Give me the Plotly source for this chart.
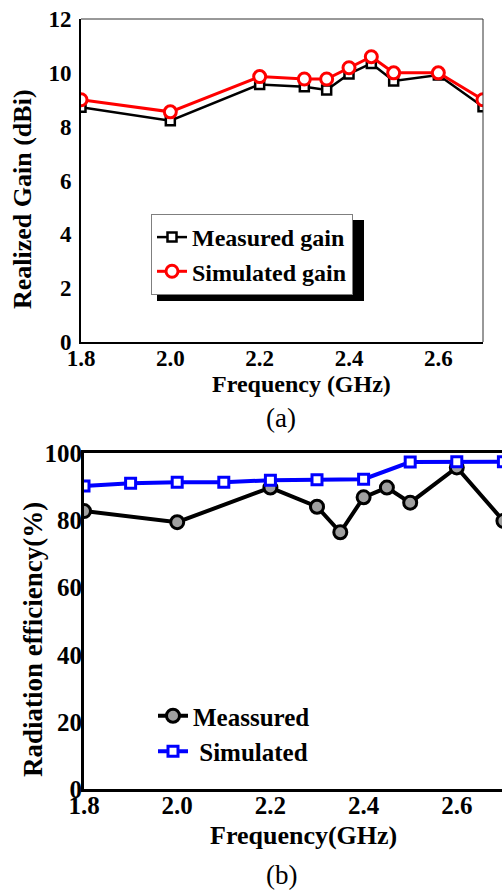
import plotly.graph_objects as go

# ---------- data ----------
freq_a = [1.8, 2.0, 2.2, 2.3, 2.35, 2.4, 2.45, 2.5, 2.6, 2.7]
gain_measured = [8.72, 8.22, 9.57, 9.48, 9.36, 9.96, 10.35, 9.70, 9.92, 8.74]
gain_simulated = [9.00, 8.55, 9.86, 9.77, 9.77, 10.19, 10.60, 10.00, 10.00, 9.00]

freq_b_meas = [1.8, 2.0, 2.2, 2.3, 2.35, 2.4, 2.45, 2.5, 2.6, 2.7]
eff_measured = [82.8, 79.5, 89.8, 84.1, 76.5, 86.9, 89.8, 85.3, 95.8, 79.9]
freq_b_sim = [1.8, 1.9, 2.0, 2.1, 2.2, 2.3, 2.4, 2.5, 2.6, 2.7]
eff_simulated = [90.3, 91.1, 91.4, 91.4, 92.0, 92.1, 92.3, 97.4, 97.5, 97.5]

x_ticks = [1.8, 2.0, 2.2, 2.4, 2.6]
x_ticktext = ["1.8", "2.0", "2.2", "2.4", "2.6"]

W, H = 502, 892
SERIF = "Liberation Serif"


def px_x(v):
    return v / W


def px_y(v):
    return 1 - v / H


fig = go.Figure()

# ---------- panel (a) ----------
fig.add_trace(go.Scatter(
    x=freq_a, y=gain_measured, name="Measured gain", mode="lines+markers",
    line=dict(color="black", width=2.5),
    marker=dict(symbol="square", size=9, color="white", line=dict(color="black", width=2.5)),
    xaxis="x", yaxis="y", legend="legend"))
fig.add_trace(go.Scatter(
    x=freq_a, y=gain_simulated, name="Simulated gain", mode="lines+markers",
    line=dict(color="#ff0000", width=3),
    marker=dict(symbol="circle", size=12, color="white", line=dict(color="#ff0000", width=3)),
    xaxis="x", yaxis="y", legend="legend"))

# ---------- panel (b) ----------
fig.add_trace(go.Scatter(
    x=freq_b_meas, y=eff_measured, name="Meassured", mode="lines+markers",
    line=dict(color="black", width=4),
    marker=dict(symbol="circle", size=13, color="#a0a0a0", line=dict(color="black", width=3)),
    xaxis="x2", yaxis="y2", legend="legend2"))
fig.add_trace(go.Scatter(
    x=freq_b_sim, y=eff_simulated, name="\u00a0Simulated", mode="lines+markers",
    line=dict(color="#0000ff", width=4),
    marker=dict(symbol="square", size=10, color="white", line=dict(color="#0000ff", width=3)),
    xaxis="x2", yaxis="y2", legend="legend2"))

tick_a = dict(family=SERIF, size=23, color="black", weight="bold")
tick_b = dict(family=SERIF, size=25, color="black", weight="bold")

common = dict(showgrid=False, zeroline=False, ticks="", automargin=False,
              showline=True, linecolor="black")

fig.update_layout(
    width=W, height=H,
    margin=dict(l=0, r=0, t=0, b=0, autoexpand=False),
    paper_bgcolor="white", plot_bgcolor="white",
    showlegend=True,
    xaxis=dict(domain=[px_x(81), px_x(483)], range=[1.8, 2.7], anchor="y",
               tickvals=x_ticks, ticktext=x_ticktext, ticklabelstandoff=-6,
               linewidth=2, mirror=False, tickfont=tick_a, **common),
    yaxis=dict(domain=[px_y(342), px_y(19)], range=[0, 12], anchor="x",
               dtick=2, tick0=0, ticklabelstandoff=3,
               linewidth=2, mirror=False, tickfont=tick_a, **common),
    xaxis2=dict(domain=[px_x(84), 1], range=[1.8, 2.697], anchor="y2",
                tickvals=x_ticks, ticktext=x_ticktext, ticklabelstandoff=-8,
                linewidth=3, mirror=True, tickfont=tick_b, **common),
    yaxis2=dict(domain=[px_y(789.3), px_y(453.3)], range=[0, 100], anchor="x2",
                dtick=20, tick0=0, ticklabelstandoff=-6,
                linewidth=3, mirror=False, tickfont=tick_b, **common),
    legend=dict(x=px_x(151), y=px_y(214), xanchor="left", yanchor="top",
                bgcolor="white", bordercolor="#7f7f7f", borderwidth=1,
                font=dict(family=SERIF, size=24, color="black", weight="bold"),
                tracegroupgap=0),
    legend2=dict(x=px_x(153), y=px_y(693), xanchor="left", yanchor="top",
                 bgcolor="rgba(0,0,0,0)", borderwidth=0,
                 font=dict(family=SERIF, size=25, color="black", weight="bold"),
                 tracegroupgap=0),
    shapes=[
        # legend drop shadow (panel a)
        dict(type="rect", xref="paper", yref="paper",
             x0=px_x(157), x1=px_x(364), y0=px_y(301), y1=px_y(220),
             fillcolor="black", line=dict(width=0), layer="above"),
        # thin top / right frame of panel (a)
        dict(type="line", xref="x domain", yref="y domain", x0=0, x1=1, y0=1, y1=1,
             line=dict(color="#333333", width=1), layer="above"),
        dict(type="line", xref="x domain", yref="y domain", x0=1, x1=1, y0=0, y1=1,
             line=dict(color="#333333", width=1), layer="above"),
    ],
    annotations=[
        dict(text="<b>Realized Gain (dBi)</b>", x=px_x(22), y=px_y(199), xref="paper", yref="paper",
             textangle=-90, showarrow=False, xanchor="center", yanchor="middle",
             font=dict(family=SERIF, size=26, color="black")),
        dict(text="<b>Frequency (GHz)</b>", x=px_x(301), y=px_y(384), xref="paper", yref="paper",
             showarrow=False, xanchor="center", yanchor="middle",
             font=dict(family=SERIF, size=24, color="black")),
        dict(text="(a)", x=px_x(281), y=px_y(418), xref="paper", yref="paper",
             showarrow=False, xanchor="center", yanchor="middle",
             font=dict(family=SERIF, size=27, color="black")),
        dict(text="<b>Radiation efficiency(%)</b>", x=px_x(33), y=px_y(640), xref="paper", yref="paper",
             textangle=-90, showarrow=False, xanchor="center", yanchor="middle",
             font=dict(family=SERIF, size=27, color="black")),
        dict(text="<b>Frequency(GHz)</b>", x=px_x(303), y=px_y(835), xref="paper", yref="paper",
             showarrow=False, xanchor="center", yanchor="middle",
             font=dict(family=SERIF, size=26, color="black")),
        dict(text="(b)", x=px_x(281), y=px_y(875), xref="paper", yref="paper",
             showarrow=False, xanchor="center", yanchor="middle",
             font=dict(family=SERIF, size=27, color="black")),
    ],
)

fig.write_html("out.html")
